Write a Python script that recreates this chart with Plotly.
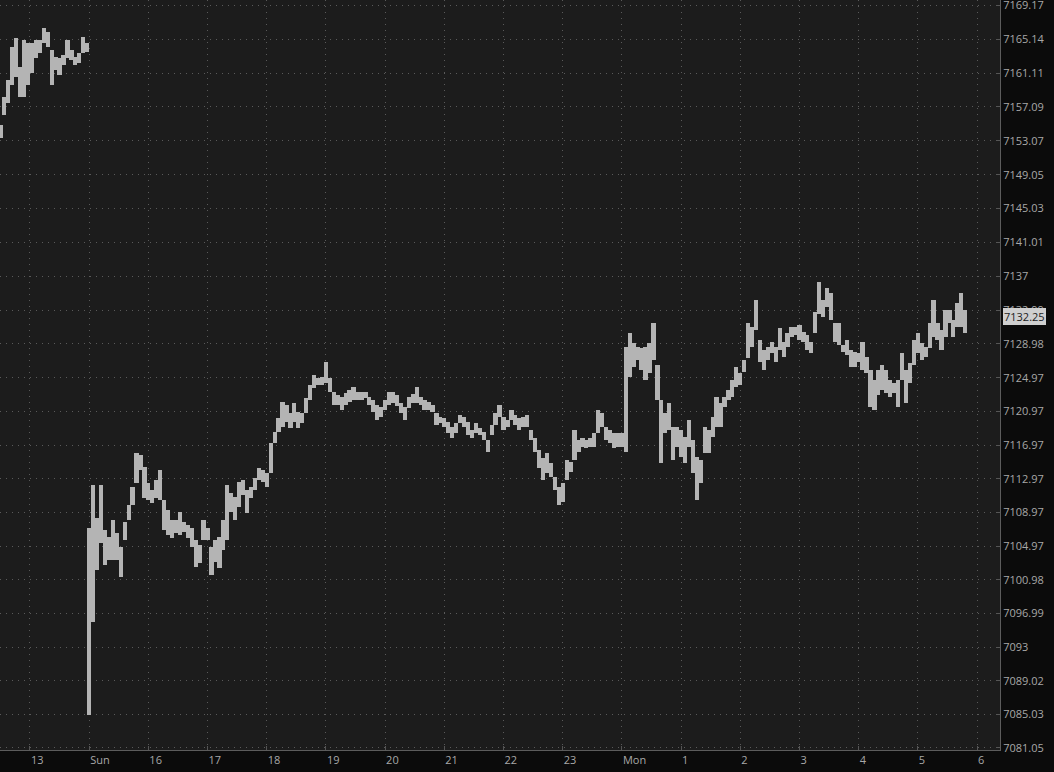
import plotly.graph_objects as go

# Friday session, minutes relative to the 13:00 tick (4-minute bars)
fri_t = list(range(-30, 59, 4))
fri_high = [7154.95, 7158.27, 7160.28, 7164.20, 7165.26, 7161.82, 7165.03, 7164.67, 7164.67, 7165.03,
            7165.03, 7166.45, 7165.98, 7163.84, 7163.01, 7162.89, 7163.25, 7165.03, 7163.84, 7163.01,
            7163.48, 7165.38, 7164.67]
fri_low = [7153.40, 7156.13, 7157.55, 7159.69, 7160.64, 7158.27, 7158.27, 7159.69, 7161.11, 7162.89,
           7163.48, 7164.67, 7164.20, 7159.69, 7161.47, 7160.88, 7162.06, 7162.89, 7162.65, 7162.06,
           7162.30, 7163.48, 7163.60]

# Sunday / Monday session
sun_t = list(range(60, 949, 4))
sun_high = [
    7107.15, 7112.25, 7108.33, 7112.25, 7106.91, 7106.08, 7108.10, 7106.56, 7104.90, 7107.86,
    7109.88, 7112.01, 7116.04, 7115.81, 7114.39, 7112.49, 7111.66, 7112.84, 7114.03, 7110.47,
    7109.28, 7108.10, 7108.10, 7109.04, 7107.86, 7107.51, 7107.15, 7105.73, 7105.13, 7108.10,
    7107.15, 7104.90, 7105.73, 7106.08, 7108.10, 7112.25, 7111.30, 7110.83, 7112.60, 7112.84,
    7111.66, 7112.01, 7113.08, 7114.27, 7114.03, 7113.67, 7117.23, 7118.53, 7120.20, 7122.09,
    7121.74, 7120.79, 7121.97, 7120.91, 7120.79, 7122.57, 7124.11, 7125.29, 7124.94, 7125.06,
    7126.84, 7124.94, 7123.28, 7122.92, 7122.69, 7123.16, 7123.52, 7123.87, 7123.28, 7123.28,
    7123.28, 7122.69, 7122.33, 7121.74, 7121.50, 7122.33, 7123.28, 7123.28, 7122.92, 7121.97,
    7121.50, 7122.69, 7123.04, 7123.87, 7122.69, 7122.33, 7122.09, 7121.74, 7120.79, 7120.32,
    7120.20, 7119.72, 7119.13, 7119.60, 7120.55, 7120.32, 7119.72, 7118.77, 7119.60, 7119.01,
    7118.53, 7117.59, 7119.37, 7120.79, 7121.74, 7120.32, 7119.96, 7121.14, 7120.55, 7120.20,
    7120.32, 7120.55, 7118.77, 7117.82, 7116.40, 7115.45, 7116.04, 7114.86, 7113.20, 7112.01,
    7112.49, 7115.21, 7114.98, 7118.77, 7117.59, 7117.82, 7117.59, 7117.82, 7118.42, 7121.14,
    7120.79, 7119.13, 7118.77, 7118.42, 7118.42, 7118.42, 7128.62, 7130.27, 7129.09, 7128.62,
    7128.50, 7128.62, 7129.09, 7131.46, 7126.48, 7122.33, 7120.79, 7121.97, 7119.13, 7119.13,
    7118.77, 7117.94, 7119.96, 7117.59, 7115.57, 7115.21, 7119.13, 7118.77, 7120.32, 7122.69,
    7121.97, 7122.69, 7123.52, 7124.70, 7126.25, 7125.53, 7127.07, 7131.46, 7130.99, 7134.19,
    7129.45, 7128.26, 7128.62, 7129.21, 7128.62, 7130.87, 7129.21, 7130.27, 7130.99, 7130.99,
    7131.22, 7130.39, 7130.04, 7129.21, 7132.77, 7136.33, 7134.19, 7135.61, 7135.02, 7131.46,
    7131.46, 7128.85, 7129.45, 7128.26, 7128.02, 7127.90, 7129.21, 7127.43, 7125.89, 7124.70,
    7125.89, 7126.48, 7125.89, 7124.70, 7124.34, 7124.70, 7127.90, 7125.89, 7126.72, 7129.45,
    7130.27, 7129.09, 7128.62, 7131.46, 7134.19, 7131.46, 7130.63, 7133.00, 7133.00, 7131.82,
    7133.78, 7135.02, 7133.00,
]
sun_low = [
    7084.97, 7096.00, 7102.17, 7105.37, 7102.76, 7103.35, 7103.35, 7103.35, 7101.34, 7105.73,
    7108.10, 7109.88, 7112.50, 7114.03, 7110.71, 7110.47, 7110.12, 7110.71, 7110.47, 7106.91,
    7106.32, 7105.90, 7106.56, 7106.32, 7106.68, 7105.96, 7104.90, 7102.53, 7103.00, 7105.73,
    7105.73, 7101.58, 7103.12, 7102.41, 7104.54, 7105.73, 7109.04, 7108.10, 7109.64, 7111.06,
    7108.93, 7110.71, 7111.66, 7112.84, 7112.60, 7112.01, 7113.67, 7117.23, 7118.53, 7119.13,
    7119.72, 7119.01, 7119.72, 7119.01, 7119.60, 7120.79, 7122.33, 7123.75, 7124.11, 7124.11,
    7124.34, 7123.28, 7121.74, 7121.74, 7121.14, 7121.74, 7122.09, 7122.33, 7122.33, 7122.33,
    7122.57, 7121.74, 7120.91, 7119.96, 7120.32, 7121.14, 7121.74, 7121.97, 7121.62, 7120.79,
    7119.96, 7121.38, 7121.97, 7121.97, 7121.74, 7121.14, 7121.14, 7120.91, 7119.37, 7119.60,
    7119.13, 7118.42, 7117.82, 7118.42, 7119.60, 7119.13, 7118.18, 7117.82, 7118.42, 7118.18,
    7117.59, 7116.17, 7118.18, 7119.37, 7120.32, 7118.77, 7119.13, 7119.96, 7119.37, 7118.77,
    7119.13, 7119.13, 7117.59, 7116.17, 7114.27, 7112.84, 7113.67, 7113.20, 7111.66, 7109.88,
    7110.23, 7112.84, 7113.79, 7115.21, 7116.17, 7116.76, 7116.64, 7116.76, 7116.76, 7118.42,
    7119.13, 7117.59, 7117.23, 7116.64, 7116.76, 7116.76, 7116.17, 7125.06, 7126.25, 7127.07,
    7125.89, 7124.70, 7125.53, 7127.07, 7122.33, 7114.86, 7118.42, 7118.77, 7115.21, 7116.76,
    7115.57, 7114.86, 7116.76, 7113.67, 7110.47, 7112.49, 7116.04, 7116.04, 7117.94, 7119.13,
    7119.13, 7121.50, 7122.33, 7122.69, 7123.87, 7124.11, 7125.65, 7127.30, 7128.62, 7130.63,
    7126.84, 7125.89, 7127.07, 7127.90, 7126.84, 7128.26, 7127.43, 7128.62, 7129.80, 7130.04,
    7129.45, 7129.21, 7128.26, 7127.90, 7130.27, 7132.50, 7132.17, 7133.36, 7131.82, 7129.21,
    7128.85, 7128.02, 7127.67, 7126.25, 7126.25, 7126.84, 7125.89, 7125.53, 7121.50, 7121.14,
    7122.92, 7123.52, 7123.16, 7122.69, 7123.16, 7121.50, 7124.70, 7121.97, 7124.34, 7126.50,
    7127.90, 7127.07, 7127.43, 7128.50, 7129.80, 7129.45, 7128.26, 7129.80, 7131.46, 7129.80,
    7130.99, 7130.99, 7130.27,
]
last_price = 7132.25

x_tickvals = [0, 60, 120, 180, 240, 300, 360, 420, 480, 540, 600, 660, 720, 780, 840, 900, 960]
x_ticktext = ["13", "Sun", "16", "17", "18", "19", "20", "21", "22", "23", "Mon",
              "1", "2", "3", "4", "5", "6"]
y_tickvals = [7081.05, 7085.03, 7089.02, 7093.00, 7096.99, 7100.98, 7104.97, 7108.97, 7112.97,
              7116.97, 7120.97, 7124.97, 7128.98, 7132.99, 7137.00, 7141.01, 7145.03, 7149.05,
              7153.07, 7157.09, 7161.11, 7165.14, 7169.17]
y_ticktext = ["7081.05", "7085.03", "7089.02", "7093", "7096.99", "7100.98", "7104.97", "7108.97",
              "7112.97", "7116.97", "7120.97", "7124.97", "7128.98", "7132.99", "7137", "7141.01",
              "7145.03", "7149.05", "7153.07", "7157.09", "7161.11", "7165.14", "7169.17"]

BAR = "#b4b4b4"
GRID = "#5a5a5a"
TXT = "#a8a8a8"

t = fri_t + sun_t
hi = fri_high + sun_high
lo = fri_low + sun_low

fig = go.Figure()
fig.add_trace(go.Bar(
    x=t, y=[h - l for h, l in zip(hi, lo)], base=lo,
    width=4.3,
    marker=dict(color=BAR, line=dict(width=0)),
    hoverinfo="skip",
))

fig.add_annotation(
    x=1.003, xref="paper", xanchor="left",
    y=last_price, yref="y", yanchor="middle",
    text=f"{last_price:.2f}", showarrow=False,
    bgcolor="#cfcfcf", bordercolor="#cfcfcf", borderpad=0,
    font=dict(color="#1c1c1c", size=11, family="Open Sans"),
)

fig.update_layout(
    width=1054, height=772,
    margin=dict(l=0, r=54, t=0, b=22, autoexpand=False),
    paper_bgcolor="#0b0b0b",
    plot_bgcolor="#1c1c1c",
    showlegend=False,
    bargap=0,
    font=dict(family="Open Sans", size=11, color=TXT),
    xaxis=dict(
        range=[-30.4, 983.3],
        automargin=False,
        tickvals=x_tickvals, ticktext=x_ticktext,
        ticks="inside", ticklen=4, tickcolor="#555555",
        ticklabelposition="outside right",
        ticklabeloverflow="allow",
        showgrid=True, gridcolor=GRID, griddash="1px,5px", gridwidth=1,
        zeroline=False,
        showline=True, linecolor="#5c5c5c", linewidth=1,
        tickfont=dict(size=11, color=TXT),
    ),
    yaxis=dict(
        side="right",
        automargin=False,
        range=[7080.81, 7169.77],
        tickvals=y_tickvals, ticktext=y_ticktext,
        ticks="inside", ticklen=4, tickcolor="#555555",
        ticklabeloverflow="allow",
        showgrid=True, gridcolor=GRID, griddash="1px,5px", gridwidth=1,
        zeroline=False,
        showline=True, linecolor="#5c5c5c", linewidth=1,
        tickfont=dict(size=11, color=TXT),
    ),
)

# page body has a default margin; remove it so the chart sits at the window origin
fig.write_html(
    "out.html",
    config={"displayModeBar": False},
    post_script="document.body.style.margin='0px';"
                "document.body.style.background='#0b0b0b';",
)
